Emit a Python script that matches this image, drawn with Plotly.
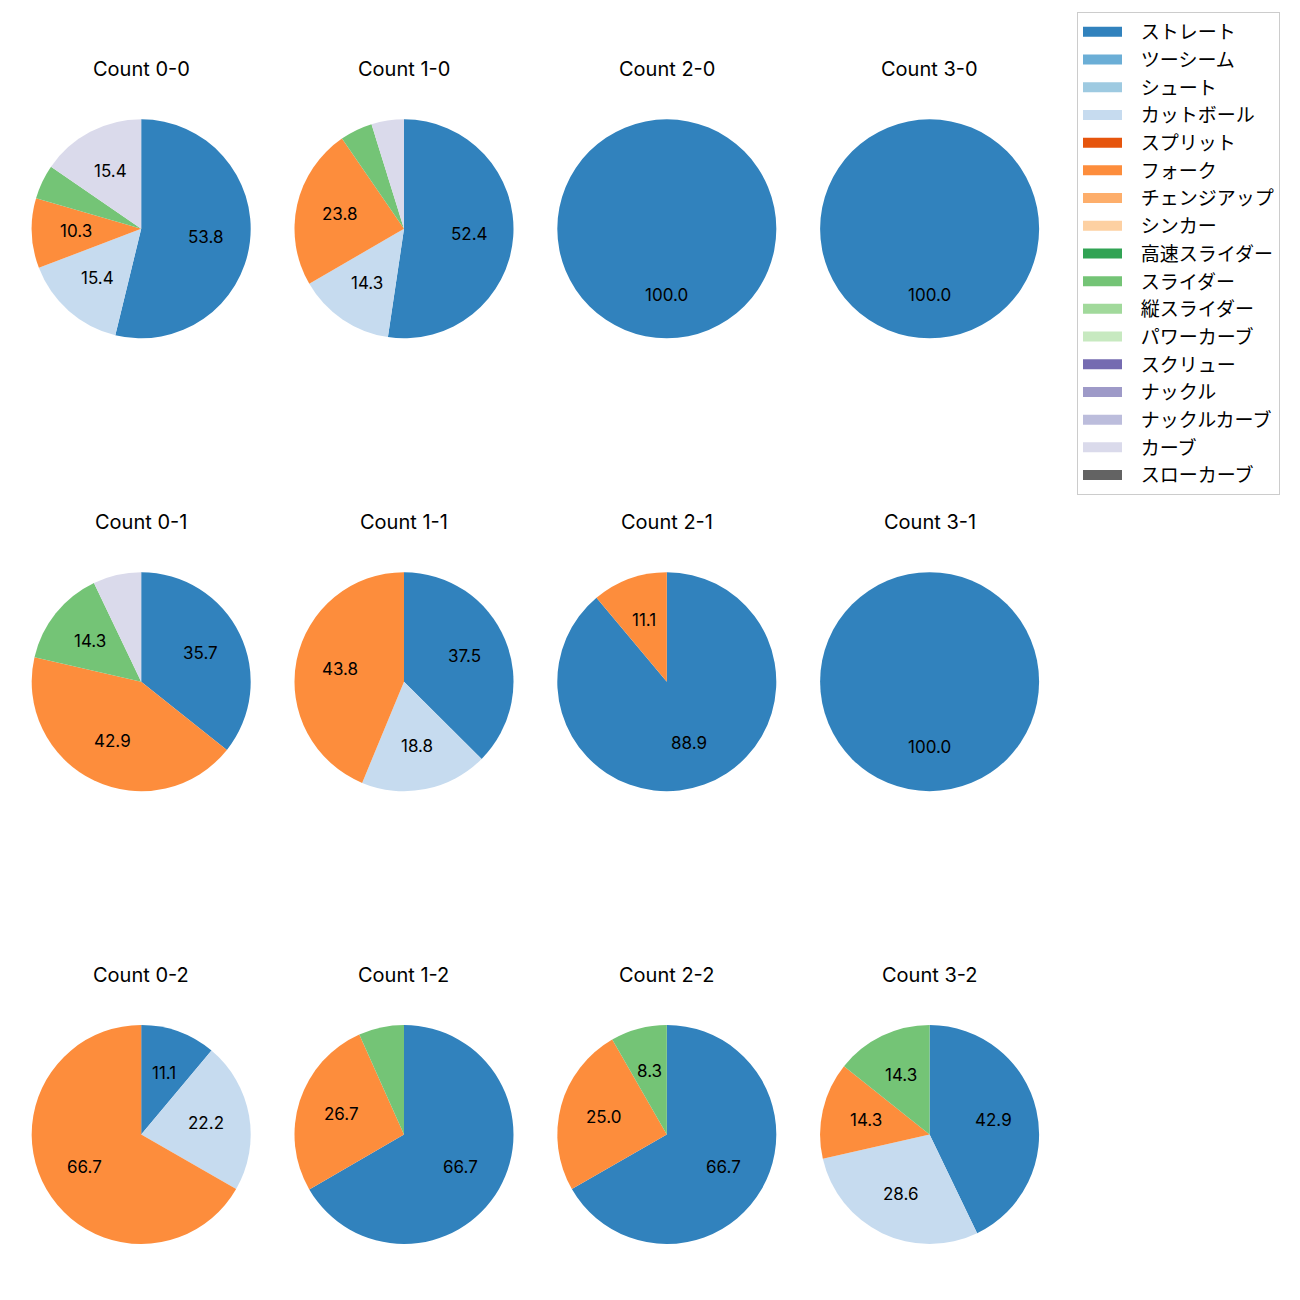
import math
import plotly.graph_objects as go

# ---------------- data ----------------
pitch_types = ["ストレート", "ツーシーム", "シュート", "カットボール", "スプリット", "フォーク",
               "チェンジアップ", "シンカー", "高速スライダー", "スライダー", "縦スライダー",
               "パワーカーブ", "スクリュー", "ナックル", "ナックルカーブ", "カーブ", "スローカーブ"]
pitch_colors = ["#3182bd", "#6baed6", "#9ecae1", "#c6dbef", "#e6550d", "#fd8d3c",
                "#fdae6b", "#fdd0a2", "#31a354", "#74c476", "#a1d99b", "#c7e9c0",
                "#756bb1", "#9e9ac8", "#bcbddc", "#dadaeb", "#636363"]

counts = ["0-0", "1-0", "2-0", "3-0",
          "0-1", "1-1", "2-1", "3-1",
          "0-2", "1-2", "2-2", "3-2"]

# percentage share per count (same order as counts)
straight = [53.8, 52.4, 100.0, 100.0, 35.7, 37.5, 88.9, 100.0, 11.1, 66.7, 66.7, 42.9]
cutter   = [15.4, 14.3, 0, 0, 0, 18.8, 0, 0, 22.2, 0, 0, 28.6]
fork     = [10.3, 23.8, 0, 0, 42.9, 43.8, 11.1, 0, 66.7, 26.7, 25.0, 14.3]
slider   = [5.1, 4.8, 0, 0, 14.3, 0, 0, 0, 0, 6.7, 8.3, 14.3]
curve    = [15.4, 4.8, 0, 0, 7.1, 0, 0, 0, 0, 0, 0, 0]

series = {
    "ストレート": straight,
    "カットボール": cutter,
    "フォーク": fork,
    "スライダー": slider,
    "カーブ": curve,
}

# ---------------- layout constants ----------------
W, H = 1300, 1300
CJK = "Noto Sans CJK JP"
LATIN = "Inter, Noto Sans CJK JP"
col_cx = [141.2, 404.0, 666.8, 929.6]
row_cy = [228.8, 681.7, 1134.5]
R = 109.5
LABEL_MIN = 8.0

fig = go.Figure()
annotations = []

for i, cnt in enumerate(counts):
    r_i, c_i = divmod(i, 4)
    cx, cy = col_cx[c_i], row_cy[r_i]
    labels, values, colors = [], [], []
    for name, col in zip(pitch_types, pitch_colors):
        if name in series and series[name][i] > 0:
            labels.append(name)
            values.append(series[name][i])
            colors.append(col)
    fig.add_trace(go.Pie(
        labels=labels, values=values, sort=False, direction="clockwise", rotation=0,
        marker=dict(colors=colors, line=dict(width=0)),
        textinfo="none", hoverinfo="label+percent", showlegend=False,
        domain=dict(x=[(cx - R) / W, (cx + R) / W], y=[1 - (cy + R) / H, 1 - (cy - R) / H]),
    ))
    annotations.append(dict(
        text="Count " + cnt, x=cx / W, y=1 - (cy - 159.5) / H, xref="paper", yref="paper",
        showarrow=False, xanchor="center", yanchor="middle",
        font=dict(family=LATIN, size=20, color="#000000")))
    total = sum(values)
    cum = 0.0
    for v in values:
        mid = math.radians(90 - 360.0 * (cum + v / 2) / total)
        cum += v
        if v < LABEL_MIN:
            continue
        lx = cx + 0.6 * R * math.cos(mid)
        ly = cy - 0.6 * R * math.sin(mid)
        annotations.append(dict(
            text="%.1f" % v, x=lx / W, y=1 - ly / H, xref="paper", yref="paper",
            showarrow=False, xanchor="center", yanchor="middle",
            font=dict(family=LATIN, size=17, color="#000000")))

# legend entries
for name, col in zip(pitch_types, pitch_colors):
    fig.add_trace(go.Scatter(x=[None], y=[None], mode="lines", name="\u2002\u00a0" + name,
                             line=dict(color=col, width=10), hoverinfo="skip"))

fig.update_layout(
    width=W, height=H, margin=dict(l=0, r=0, t=0, b=0),
    paper_bgcolor="white", plot_bgcolor="white",
    font=dict(family=CJK, size=19, color="#000000"),
    xaxis=dict(visible=False), yaxis=dict(visible=False),
    annotations=annotations,
    legend=dict(x=1077 / W, y=1 - 12 / H, xanchor="left", yanchor="top",
                bgcolor="white", bordercolor="#cccccc", borderwidth=1,
                itemwidth=39, font=dict(family=CJK, size=19, color="#000000"),
                tracegroupgap=0),
)

fig.write_html("out.html")
